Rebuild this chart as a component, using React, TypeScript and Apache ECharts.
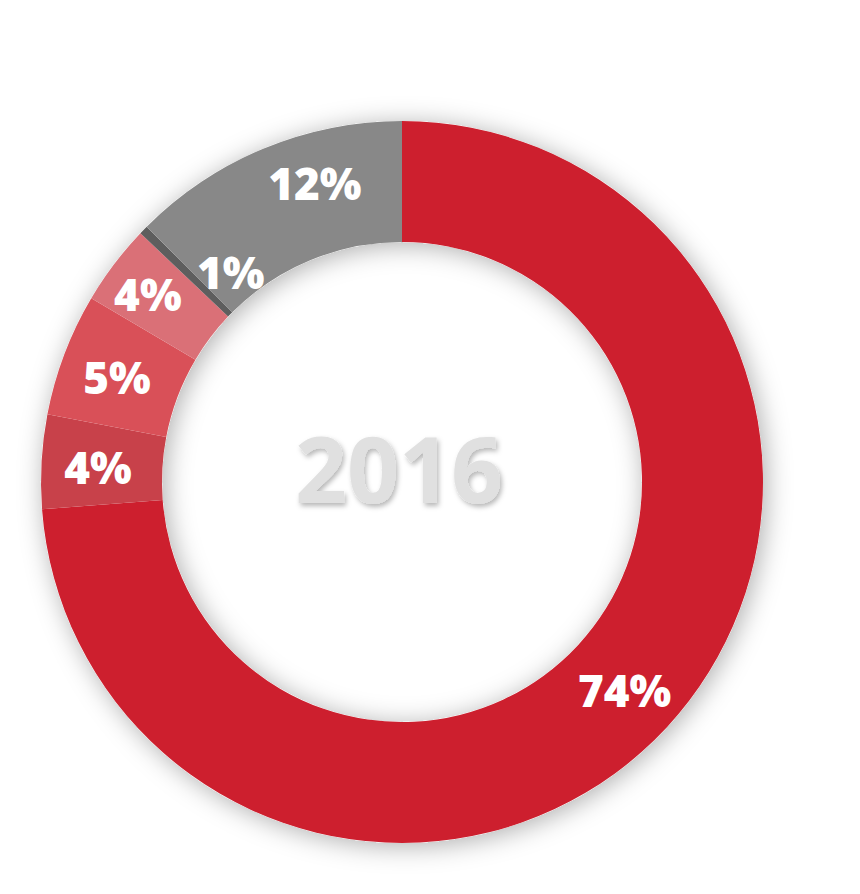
import React, { useEffect, useRef } from "react";
import * as echarts from "echarts";

// Segments clockwise from 12 o'clock
const categories = ["A", "B", "C", "D", "E", "F"];
const shares = [73.8, 4.2, 5.5, 3.6, 0.4, 12.5];
const shareLabels = ["74%", "4%", "5%", "4%", "1%", "12%"];
const centerTitle = "2016";

const COLORS = ["#CD1F2E", "#C8414A", "#D95058", "#DA7077", "#5E5E5E", "#888888"];
const LABEL_NUDGE: [number, number][] = [
  [0, 2],
  [-1, 2],
  [-1, 2],
  [-12, -5],
  [46, 2],
  [29, -19],
];

export default function App() {
  const ref = useRef<HTMLDivElement>(null);
  useEffect(() => {
    if (!ref.current) return;
    const chart = echarts.init(ref.current, null, { renderer: "svg" });
    const center = [402, 482];
    const radius = [240, 361];
    chart.setOption({
      animation: false,
      backgroundColor: "#ffffff",
      series: [
        {
          type: "pie",
          silent: true,
          center,
          radius,
          label: { show: false },
          labelLine: { show: false },
          itemStyle: {
            color: "#ffffff",
            shadowBlur: 26,
            shadowColor: "rgba(0,0,0,0.32)",
            shadowOffsetX: 3,
            shadowOffsetY: 3,
          },
          data: [{ value: 1, name: "bg" }],
          z: 1,
        },
        {
          type: "pie",
          silent: true,
          center,
          radius,
          startAngle: 90,
          clockwise: true,
          avoidLabelOverlap: false,
          z: 2,
          label: {
            show: true,
            position: "inside",
            color: "#ffffff",
            fontFamily: "Open Sans",
            fontWeight: 800,
            fontSize: 44,
            formatter: (p: any) => shareLabels[p.dataIndex],
          },
          labelLine: { show: false },
          labelLayout: (p: any) => {
            const o = LABEL_NUDGE[p.dataIndex];
            return { dx: o[0], dy: o[1] };
          },
          data: categories.map((c, i) => ({
            name: c,
            value: shares[i],
            itemStyle: { color: COLORS[i] },
          })),
        },
      ],
      graphic: [
        {
          type: "text",
          x: 399,
          y: 468,
          z: 10,
          style: {
            text: centerTitle,
            fill: "#E0E0E0",
            font: "bold 91px 'Open Sans'",
            textAlign: "center",
            textVerticalAlign: "middle",
            textShadowColor: "rgba(0,0,0,0.28)",
            textShadowBlur: 5,
            textShadowOffsetX: 2,
            textShadowOffsetY: 3,
          },
        },
      ],
    });
    return () => chart.dispose();
  }, []);
  return (
    <div
      ref={ref}
      style={{ position: "fixed", left: 0, top: 0, width: 860, height: 894 }}
    />
  );
}
